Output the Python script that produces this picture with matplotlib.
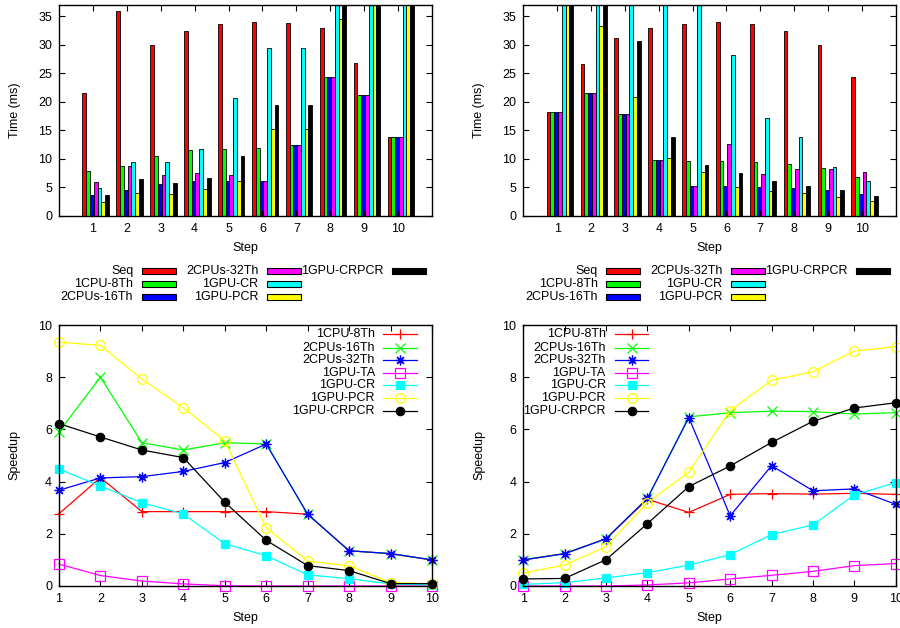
import matplotlib
matplotlib.use("Agg")
import matplotlib.pyplot as plt
from matplotlib.lines import Line2D
from matplotlib.patches import Rectangle
import numpy as np

plt.rcParams['font.family'] = ['Liberation Sans', 'DejaVu Sans']
plt.rcParams['font.size'] = 9

steps = [1, 2, 3, 4, 5, 6, 7, 8, 9, 10]

# ---- Time (ms), left panel ----
seq_L = [21.6, 36.0, 29.9, 32.5, 33.7, 33.95, 33.9, 33.0, 26.8, 13.9]
cpu8_L = [7.85, 8.7, 10.5, 11.5, 11.8, 12.0, 12.4, 24.3, 21.3, 13.9]
cpu16_L = [3.7, 4.55, 5.6, 6.2, 6.2, 6.2, 12.4, 24.3, 21.3, 13.9]
cpu32_L = [5.95, 8.7, 7.2, 7.5, 7.2, 6.2, 12.4, 24.3, 21.3, 13.9]
cr_L = [4.85, 9.4, 9.4, 11.7, 20.65, 29.5, 29.5, 118, 335, 348]
pcr_L = [2.4, 4.0, 3.85, 4.8, 6.1, 15.2, 15.2, 34.5, 206, 154]
crpcr_L = [3.6, 6.5, 5.8, 6.65, 10.6, 19.4, 19.4, 56, 298, 154]

# ---- Time (ms), right panel ----
seq_R = [18.3, 26.7, 31.3, 33.0, 33.7, 33.95, 33.7, 32.4, 29.9, 24.45]
cpu8_R = [18.3, 21.6, 17.85, 9.9, 9.7, 9.7, 9.55, 9.2, 8.4, 6.9]
cpu16_R = [18.3, 21.6, 17.85, 9.9, 5.25, 5.25, 5.0, 4.85, 4.55, 3.8]
cpu32_R = [18.3, 21.6, 17.85, 9.9, 5.25, 12.7, 7.4, 8.2, 8.17, 7.8]
cr_R = [305, 205, 101, 65, 42, 28.3, 17.1, 13.9, 8.6, 6.2]
pcr_R = [40, 33.4, 20.9, 10.2, 7.76, 5.0, 4.3, 4.0, 3.3, 2.7]
crpcr_R = [68, 92, 30.7, 13.8, 8.9, 7.5, 6.2, 5.25, 4.55, 3.5]

bar_labels = ['Seq', '1CPU-8Th', '2CPUs-16Th', '2CPUs-32Th', '1GPU-CR', '1GPU-PCR', '1GPU-CRPCR']
bar_colors = ['#ff0000', '#00ff00', '#0000ff', '#ff00ff', '#00ffff', '#ffff00', '#000000']

# ---- Speedup, left panel ----
sp_cpu8_L = [2.77, 4.15, 2.85, 2.85, 2.85, 2.85, 2.75, 1.35, 1.24, 1.0]
sp_cpu16_L = [5.91, 8.0, 5.49, 5.21, 5.49, 5.44, 2.75, 1.35, 1.24, 1.0]
sp_cpu32_L = [3.67, 4.14, 4.19, 4.39, 4.73, 5.44, 2.75, 1.35, 1.24, 1.0]
sp_ta_L = [0.84, 0.40, 0.19, 0.08, 0.01, 0.0, 0.0, 0.0, 0.0, 0.0]
sp_cr_L = [4.48, 3.83, 3.19, 2.76, 1.62, 1.16, 0.43, 0.28, 0.08, 0.04]
sp_pcr_L = [9.34, 9.22, 7.93, 6.83, 5.56, 2.23, 0.96, 0.77, 0.13, 0.09]
sp_crpcr_L = [6.22, 5.71, 5.21, 4.92, 3.21, 1.75, 0.78, 0.59, 0.09, 0.09]

# ---- Speedup, right panel ----
sp_cpu8_R = [1.0, 1.24, 1.81, 3.32, 2.82, 3.51, 3.54, 3.52, 3.55, 3.51]
sp_cpu16_R = [1.0, 1.24, 1.81, 3.36, 6.48, 6.64, 6.7, 6.68, 6.59, 6.64]
sp_cpu32_R = [1.0, 1.24, 1.81, 3.36, 6.45, 2.69, 4.61, 3.65, 3.72, 3.13]
sp_ta_R = [0.0, 0.0, 0.0, 0.04, 0.12, 0.27, 0.41, 0.56, 0.78, 0.86]
sp_cr_R = [0.06, 0.13, 0.31, 0.51, 0.80, 1.2, 1.97, 2.34, 3.49, 3.96]
sp_pcr_R = [0.5, 0.8, 1.51, 3.19, 4.36, 6.72, 7.88, 8.21, 9.0, 9.17]
sp_crpcr_R = [0.27, 0.29, 1.01, 2.39, 3.81, 4.6, 5.5, 6.31, 6.82, 7.02]

line_labels = ['1CPU-8Th', '2CPUs-16Th', '2CPUs-32Th', '1GPU-TA', '1GPU-CR', '1GPU-PCR', '1GPU-CRPCR']
line_styles = [
    dict(color='#ff0000', marker='+', ms=7, mfc='#ff0000', mew=0.9),
    dict(color='#00ff00', marker='x', ms=6.5, mfc='#00ff00', mew=0.9),
    dict(color='#0000ff', marker=(8, 2, 0), ms=7, mfc='#0000ff', mew=0.9),
    dict(color='#ff00ff', marker='s', ms=6.5, mfc='none', mew=0.9),
    dict(color='#00ffff', marker='s', ms=6, mfc='#00ffff', mew=0.9),
    dict(color='#ffff00', marker='o', ms=7, mfc='none', mew=0.9),
    dict(color='#000000', marker='o', ms=6, mfc='#000000', mew=0.9),
]

W, H = 900, 628
fig = plt.figure(figsize=(9.0, 6.28), dpi=100)


def fx(x):
    return x / W


def fy(y):
    return 1 - y / H


ax_tl = fig.add_axes([fx(59), fy(216), 373 / W, 211 / H])
ax_tr = fig.add_axes([fx(523.3), fy(216), 372.4 / W, 211 / H])
ax_bl = fig.add_axes([fx(59), fy(586), 373 / W, 261 / H])
ax_br = fig.add_axes([fx(523.3), fy(586), 372.4 / W, 261 / H])


def style_axes(ax):
    ax.tick_params(direction='in', top=True, right=True, length=4, width=0.8,
                   pad=5, labelsize=9)
    for s in ax.spines.values():
        s.set_linewidth(1.0)


bw = 1.0 / 9
offset = 0.08
for ax, data in [(ax_tl, [seq_L, cpu8_L, cpu16_L, cpu32_L, cr_L, pcr_L, crpcr_L]),
                 (ax_tr, [seq_R, cpu8_R, cpu16_R, cpu32_R, cr_R, pcr_R, crpcr_R])]:
    x = np.array(steps, dtype=float)
    for i, (vals, col) in enumerate(zip(data, bar_colors)):
        ax.bar(x + (i - 3) * bw + offset, vals, width=bw, color=col,
               edgecolor='black', linewidth=0.6)
    ax.set_xlim(0, 11)
    ax.set_ylim(0, 37)
    ax.set_xticks(steps)
    ax.set_yticks(range(0, 36, 5))
    ax.set_xlabel('Step', fontsize=9)
    ax.set_ylabel('Time (ms)', fontsize=9)
    ax.xaxis.set_label_coords(0.5, -0.125)
    ax.yaxis.set_label_coords(-0.103, 0.5)
    style_axes(ax)

for ax, data in [(ax_bl, [sp_cpu8_L, sp_cpu16_L, sp_cpu32_L, sp_ta_L, sp_cr_L, sp_pcr_L, sp_crpcr_L]),
                 (ax_br, [sp_cpu8_R, sp_cpu16_R, sp_cpu32_R, sp_ta_R, sp_cr_R, sp_pcr_R, sp_crpcr_R])]:
    for vals, st in zip(data, line_styles):
        ax.plot(steps, vals, lw=0.9, clip_on=False, **st)
    ax.set_xlim(1, 10)
    ax.set_ylim(0, 10)
    ax.set_xticks(steps)
    ax.set_yticks(range(0, 11, 2))
    ax.set_xlabel('Step', fontsize=9)
    ax.set_ylabel('Speedup', fontsize=9)
    ax.xaxis.set_label_coords(0.5, -0.1)
    ax.yaxis.set_label_coords(-0.103, 0.5)
    style_axes(ax)

# ---- bar legends (below top panels) ----
rows = [271, 284, 296.7]
for ax_left in (59, 523.3):
    text_r = [74.3, 199.3, 324.3]
    sw_l = [82.7, 207.7, 332.7]
    for k, (lab, col) in enumerate(zip(bar_labels, bar_colors)):
        c, r = k // 3, k % 3
        y = rows[r]
        fig.text(fx(ax_left + text_r[c]), fy(y), lab, ha='right', va='center', fontsize=9)
        fig.add_artist(Rectangle((fx(ax_left + sw_l[c]), fy(y + 3)), 34 / W, 6 / H,
                                 transform=fig.transFigure, facecolor=col,
                                 edgecolor='black', linewidth=0.8))

# ---- line legends ----
lrows = [334.3, 347.7, 360, 372.7, 385, 397.7, 410.7]
for tr, l1, l2 in [(375, 383, 417), (605.7, 614.7, 648.3)]:
    for lab, st, y in zip(line_labels, line_styles, lrows):
        fig.text(fx(tr), fy(y), lab, ha='right', va='center', fontsize=9)
        fig.add_artist(Line2D([fx(l1), fx(l2)], [fy(y), fy(y)], transform=fig.transFigure,
                              color=st['color'], lw=0.9))
        m = dict(st)
        col = m.pop('color')
        fig.add_artist(Line2D([fx((l1 + l2) / 2)], [fy(y)], transform=fig.transFigure,
                              color=col, lw=0, **m))

fig.savefig('out.png', dpi=100)
